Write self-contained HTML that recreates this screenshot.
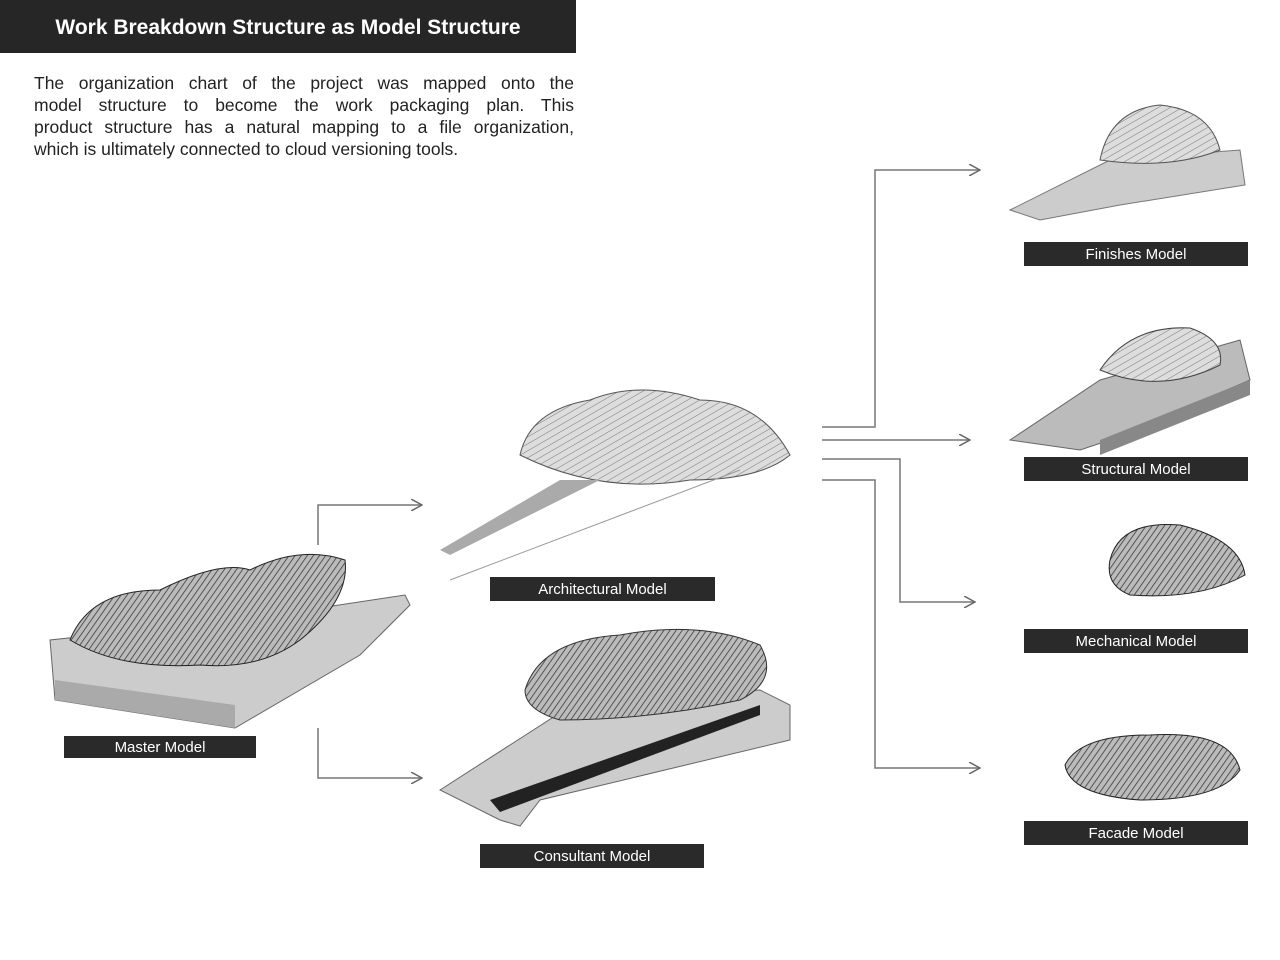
<!DOCTYPE html>
<html><head><meta charset="utf-8"><style>
html,body{margin:0;padding:0;background:#fff;}
body{width:1280px;height:960px;position:relative;overflow:hidden;font-family:"Liberation Sans",sans-serif;}
.hdr{position:absolute;left:0;top:0;width:576px;height:53px;background:#262626;color:#fff;font-weight:bold;font-size:21px;line-height:55px;text-align:center;}
.txt{position:absolute;left:34px;top:72px;width:540px;font-size:17.5px;line-height:22px;color:#222;}
.txt div{text-align:justify;text-align-last:justify;white-space:nowrap;}
.txt div.l{text-align-last:left;}
.lab{position:absolute;background:#2a2a2a;color:#fff;font-size:15px;text-align:center;line-height:26px;height:24px;}
svg{position:absolute;left:0;top:0;}
</style></head><body>
<div class="hdr">Work Breakdown Structure as Model Structure</div>
<div class="txt"><div>The organization chart of the project was mapped onto the</div><div>model structure to become the work packaging plan. This</div><div>product structure has a natural mapping to a file organization,</div><div class="l">which is ultimately connected to cloud versioning tools.</div></div>
<svg width="1280" height="960" viewBox="0 0 1280 960">
<defs>
<pattern id="h" width="5" height="5" patternUnits="userSpaceOnUse" patternTransform="rotate(35)"><rect width="5" height="5" fill="#bbb"/><line x1="0" y1="0" x2="0" y2="5" stroke="#333" stroke-width="1.5"/></pattern>
<pattern id="h2" width="6" height="6" patternUnits="userSpaceOnUse" patternTransform="rotate(60)"><rect width="6" height="6" fill="#ddd"/><line x1="0" y1="0" x2="0" y2="6" stroke="#777" stroke-width="1"/></pattern>
<marker id="a" markerWidth="12" markerHeight="12" refX="11" refY="6" orient="auto" markerUnits="userSpaceOnUse"><path d="M0,0 L11,6 L0,12" fill="none" stroke="#666" stroke-width="1.5"/></marker>
</defs>
<g fill="none" stroke="#777" stroke-width="1.5">
<polyline points="318,545 318,505 422,505" marker-end="url(#a)"/>
<polyline points="318,728 318,778 422,778" marker-end="url(#a)"/>
<polyline points="822,427 875,427 875,170 980,170" marker-end="url(#a)"/>
<polyline points="822,440 970,440" marker-end="url(#a)"/>
<polyline points="822,459 900,459 900,602 975,602" marker-end="url(#a)"/>
<polyline points="822,480 875,480 875,768 980,768" marker-end="url(#a)"/>
</g>
<polygon points="50,640 55,700 235,728 360,655 410,605 405,595 240,620" fill="#ccc" stroke="#666"/>
<polygon points="55,700 235,728 235,705 55,680" fill="#aaa"/>
<path d="M70,640 Q90,590 160,590 Q220,560 250,570 Q300,545 345,560 Q350,600 300,640 Q260,670 200,665 Q120,670 70,640Z" fill="url(#h)" stroke="#222"/>
<path d="M520,455 Q530,410 590,400 Q640,380 700,400 Q760,400 790,455 Q760,480 690,480 Q600,495 520,455Z" fill="url(#h2)" stroke="#555"/>
<polygon points="440,550 560,480 600,480 450,555" fill="#aaa"/>
<line x1="450" y1="580" x2="740" y2="470" stroke="#999"/>
<polygon points="440,790 580,700 760,690 790,705 790,740 540,800 520,826 500,820" fill="#ccc" stroke="#666"/>
<polygon points="490,800 760,705 760,715 500,812" fill="#222"/>
<path d="M525,690 Q540,640 620,635 Q700,620 760,645 Q780,680 740,700 Q650,720 560,720 Q525,710 525,690Z" fill="url(#h)" stroke="#333"/>
<polygon points="1010,210 1110,160 1240,150 1245,185 1120,205 1040,220" fill="#ccc" stroke="#777"/>
<path d="M1100,160 Q1110,110 1160,105 Q1210,110 1220,150 Q1170,170 1100,160Z" fill="url(#h2)" stroke="#555"/>
<polygon points="1010,440 1100,380 1240,340 1250,380 1110,440 1080,450" fill="#bbb" stroke="#666"/>
<polygon points="1100,440 1250,380 1250,395 1100,455" fill="#888"/>
<path d="M1100,370 Q1130,325 1190,328 Q1225,340 1220,365 Q1160,395 1100,370Z" fill="url(#h2)" stroke="#444"/>
<path d="M1110,560 Q1120,520 1180,525 Q1240,540 1245,575 Q1200,600 1130,595 Q1105,585 1110,560Z" fill="url(#h)" stroke="#222"/>
<path d="M1065,765 Q1080,735 1150,735 Q1230,730 1240,770 Q1220,800 1140,800 Q1070,795 1065,765Z" fill="url(#h)" stroke="#222"/>
</svg>
<div class="lab" style="left:1024px;top:242px;width:224px;">Finishes Model</div>
<div class="lab" style="left:1024px;top:457px;width:224px;">Structural Model</div>
<div class="lab" style="left:1024px;top:629px;width:224px;">Mechanical Model</div>
<div class="lab" style="left:1024px;top:821px;width:224px;">Facade Model</div>
<div class="lab" style="left:490px;top:577px;width:225px;">Architectural Model</div>
<div class="lab" style="left:480px;top:844px;width:224px;">Consultant Model</div>
<div class="lab" style="left:64px;top:736px;width:192px;height:22px;line-height:23px;">Master Model</div>
</body></html>
